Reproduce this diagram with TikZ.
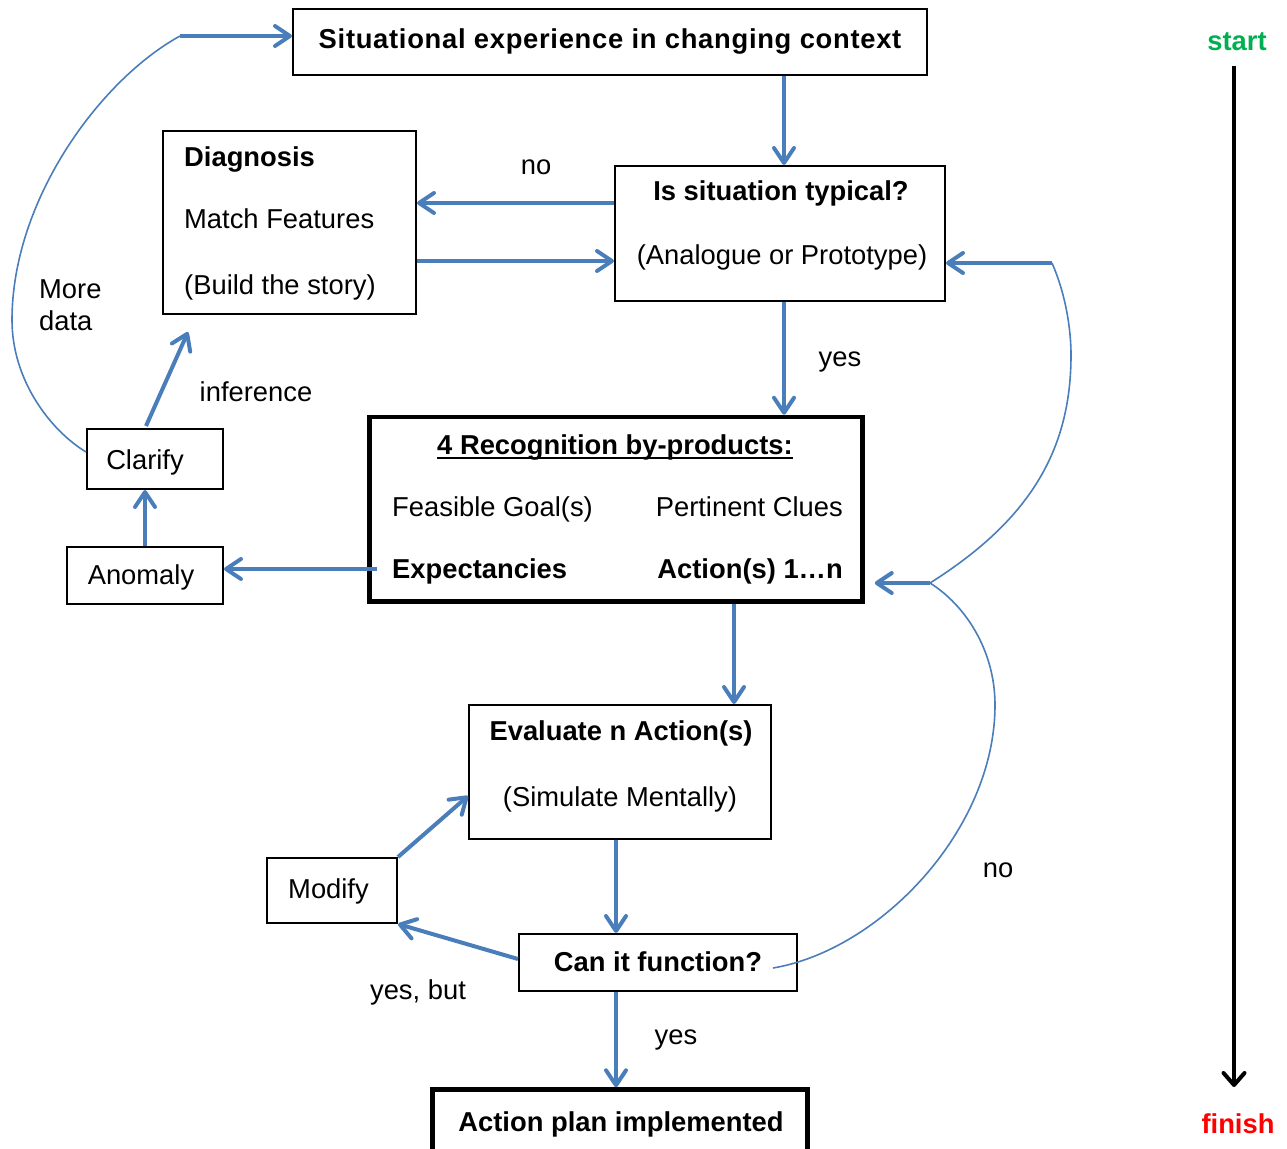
\documentclass[tikz,border=0pt]{standalone}
\usepackage{fontspec}
\setmainfont{Liberation Sans}
\usetikzlibrary{arrows.meta}
\definecolor{flow}{HTML}{4A7EBB}
\definecolor{startgreen}{HTML}{00B050}
\definecolor{finishred}{HTML}{FF0000}
\newcommand{\flowfont}{\fontsize{27.35pt}{32pt}\selectfont}
\begin{document}
\begin{tikzpicture}[x=1pt,y=-1pt,
  box/.style={draw=black, line width=2pt, rectangle, inner sep=0pt},
  heavybox/.style={box, line width=4.5pt},
  txt/.style={inner sep=0pt, text height=19.6pt, text depth=0pt, font=\flowfont},
  btxt/.style={txt, font=\flowfont\bfseries},
  arr/.style={draw=flow, line width=4pt, -{Straight Barb[length=15pt,width=20pt,round]}},
  loopline/.style={draw=flow, line width=1.6pt},
  timearr/.style={draw=black, line width=4pt, -{Straight Barb[length=12pt,width=21pt,round]}},
]
\useasboundingbox (0,0) rectangle (1287,1148);
\clip (0,0) rectangle (1287,1148);

% ---- boxes and their texts ----
\node[box, minimum width=634pt, minimum height=66pt] (sit) at (610,42) {};
\node[btxt, font=\flowfont\bfseries\addfontfeatures{LetterSpace=2.6}] (sitT) at (610,39) {Situational experience in changing context};

\node[box, minimum width=330pt, minimum height=135pt] (typ) at (780,233.5) {};
\node[btxt] (typA) at (781,191) {Is situation typical?};
\node[txt] (typB) at (782,255) {(Analogue or Prototype)};

\node[box, minimum width=253pt, minimum height=183pt] (diag) at (289.5,222.5) {};
\node[btxt, anchor=west] (diagA) at (184,157) {Diagnosis};
\node[txt, anchor=west] (diagB) at (184,219) {Match Features};
\node[txt, anchor=west] (diagC) at (184,285) {(Build the story)};

\node[heavybox, minimum width=493pt, minimum height=184.5pt] (rec) at (616,509.25) {};
\node[btxt] (recT) at (615,445) {4 Recognition by-products:};
\draw[line width=1.8pt] ([yshift=-3pt]recT.south west) -- ([yshift=-3pt]recT.south east);
\node[txt, anchor=west] (recA) at (392,507) {Feasible Goal(s)};
\node[txt, anchor=east] (recB) at (843,507) {Pertinent Clues};
\node[btxt, anchor=west] (recC) at (392,569) {Expectancies};
\node[btxt, anchor=east] (recD) at (843,569) {Action(s) 1…n};

\node[box, minimum width=156pt, minimum height=57pt] (anom) at (145,575.5) {};
\node[txt] (anomT) at (141,575) {Anomaly};

\node[box, minimum width=136pt, minimum height=60pt] (clar) at (155,459) {};
\node[txt] (clarT) at (145,460) {Clarify};

\node[box, minimum width=302pt, minimum height=134pt] (eval) at (620,772) {};
\node[btxt] (evalA) at (621,731) {Evaluate n Action(s)};
\node[txt] (evalB) at (620,797) {(Simulate Mentally)};

\node[box, minimum width=130pt, minimum height=65pt] (mod) at (332,890.5) {};
\node[txt] (modT) at (328.5,889) {Modify};

\node[box, minimum width=278pt, minimum height=57pt] (can) at (658,962.5) {};
\node[btxt] (canT) at (658,962) {Can it function?};

\node[heavybox, minimum width=375pt, minimum height=70pt] (act) at (620,1124.5) {};
\node[btxt] (actT) at (621,1122) {Action plan implemented};

% ---- labels ----
\node[txt] (lNo) at (536,165) {no};
\node[txt] (lYes) at (840,357) {yes};
\node[txt] (lInf) at (256,392) {inference};
\node[txt, anchor=west] (lMore) at (39,289) {More};
\node[txt, anchor=west] (lData) at (39,321) {data};
\node[txt] (lBut) at (418,990) {yes, but};
\node[txt] (lYes2) at (676,1035) {yes};
\node[txt] (lNo2) at (998,868) {no};

% ---- time axis ----
\node[btxt, text=startgreen] (st) at (1237,41) {start};
\node[btxt, text=finishred] (fin) at (1238,1124) {finish};
\draw[timearr, shorten <=15pt, shorten >=27pt] ([xshift=-3pt]st.south) -- ([xshift=-3pt]st.south |- fin.north);

% ---- straight connectors ----
\draw[arr] ([xshift=4pt]typ.north |- sit.south) -- ([xshift=4pt]typ.north);
\draw[arr] ([yshift=30.5pt]typ.west) -- ([yshift=30.5pt]typ.west -| diag.east);
\draw[arr] ([yshift=-27.5pt]typ.west -| diag.east) -- ([yshift=-27.5pt]typ.west);
\draw[arr] ([xshift=4pt]typ.south) -- ([xshift=4pt]typ.south |- rec.north);
\draw[arr] ([xshift=10pt,yshift=-59.75pt]rec.west) -- ([yshift=-59.75pt]rec.west -| anom.east);
\draw[arr] (anom.north) -- (anom.north |- clar.south);
\draw[arr] ([xshift=-9pt,yshift=2pt]clar.north) -- ([xshift=26pt,yshift=-17pt]diag.south west);
\draw[arr] ([xshift=118pt]rec.south) -- ([xshift=118pt]rec.south |- eval.north);
\draw[arr] ([xshift=-4pt]eval.south) -- ([xshift=-4pt]eval.south |- can.north);
\draw[arr] ([xshift=-42pt]can.south) -- ([xshift=-42pt]can.south |- act.north);
\draw[arr] (mod.north east) -- ([yshift=-24pt]eval.west);
\draw[arr] ([yshift=3.5pt]can.west) -- (mod.south east);

% ---- feedback loops ----
\coordinate (moreTurn) at (180,36);
\draw[loopline] ([yshift=7pt]clar.west) .. controls (50,430) and (12,380) .. (12,320)
  .. controls (12,200) and (100,80) .. (moreTurn);
\draw[arr] (moreTurn) -- (moreTurn -| sit.west);

\coordinate (typBack) at (1052,263);
\coordinate (join) at (930,583);
\draw[arr] (typBack) -- (typBack -| typ.east);
\draw[loopline] (typBack) .. controls (1066,295) and (1071,330) .. (1071,355)
  .. controls (1071,450) and (1030,520) .. (join);
\draw[loopline] ([xshift=-25pt,yshift=-5.5pt]can.east) .. controls (880,950) and (995,830) .. (995,705)
  .. controls (995,650) and (965,605) .. (join);
\draw[arr] (join) -- ([xshift=10pt]join -| rec.east);
\end{tikzpicture}
\end{document}
